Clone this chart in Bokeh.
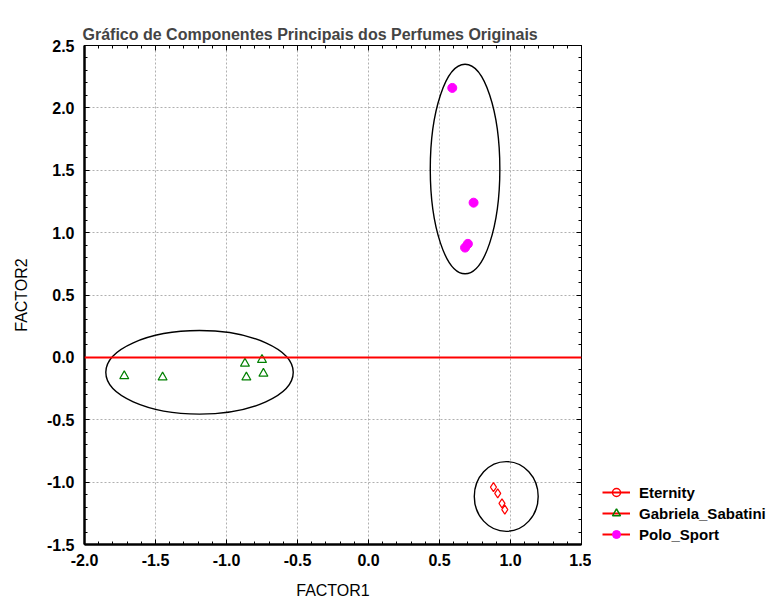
import math
from bokeh.plotting import figure
from bokeh.layouts import row
from bokeh.models import (Range1d, LinearAxis, Legend, LegendItem, Span,
                          SingleIntervalTicker, PrintfTickFormatter,
                          CustomJSTickFormatter)
from bokeh.embed import file_html
from bokeh.resources import INLINE

# ---- data ----
eternity_x = [0.88, 0.91, 0.94, 0.96]
eternity_y = [-1.04, -1.09, -1.17, -1.22]

gabriela_x = [-1.72, -1.45, -0.87, -0.86, -0.75, -0.74]
gabriela_y = [-0.15, -0.16, -0.05, -0.16, -0.02, -0.13]

polo_x = [0.59, 0.74, 0.70, 0.68]
polo_y = [2.16, 1.24, 0.91, 0.88]

# ellipses: centre x, centre y, width, height
ell_x = [-1.19, 0.68, 0.97]
ell_y = [-0.12, 1.51, -1.115]
ell_w = [1.32, 0.49, 0.45]
ell_h = [0.67, 1.68, 0.56]

series_labels = ["Eternity", "Gabriela_Sabatini", "Polo_Sport"]

title = "Gráfico de Componentes Principais dos Perfumes Originais"
font = "Liberation Sans"

p = figure(frame_width=497, frame_height=499, output_backend="svg",
           toolbar_location=None,
           x_range=Range1d(-2.0, 1.5), y_range=Range1d(-1.5, 2.5),
           min_border_left=84, min_border_right=10, min_border_top=45,
           min_border_bottom=59, title=title)
p.background_fill_color = "white"
p.border_fill_color = "white"
p.outline_line_color = "black"
p.outline_line_width = 1

p.title.align = "left"
p.title.offset = -2
p.title.text_font = font
p.title.text_font_size = "16px"
p.title.text_font_style = "bold"
p.title.standoff = 6

p.xaxis.ticker = SingleIntervalTicker(interval=0.5, num_minor_ticks=5)
p.yaxis.ticker = SingleIntervalTicker(interval=0.5, num_minor_ticks=5)
p.xaxis.formatter = PrintfTickFormatter(format="%.1f")
p.yaxis.formatter = PrintfTickFormatter(format="%.1f")

for ax in (p.xaxis[0], p.yaxis[0]):
    ax.axis_line_width = 2.5
    ax.axis_line_color = "black"
    ax.major_tick_in = 5
    ax.major_tick_out = 0
    ax.minor_tick_in = 3
    ax.minor_tick_out = 0
    ax.major_tick_line_color = "black"
    ax.minor_tick_line_color = "black"
    ax.major_label_text_font = font
    ax.major_label_text_font_size = "16px"
    ax.major_label_text_font_style = "bold"
    ax.major_label_text_color = "black"
    ax.axis_label_text_font = font
    ax.axis_label_text_font_size = "16px"
    ax.axis_label_text_font_style = "normal"
    ax.axis_label_text_color = "black"

p.xaxis.axis_label = "FACTOR1"
p.yaxis.axis_label = "FACTOR2"
p.xaxis.major_label_standoff = 9
p.yaxis.major_label_standoff = 10
p.xaxis.axis_label_standoff = 13
p.yaxis.axis_label_standoff = 14

# top and right axes: ticks only
for loc in ("above", "right"):
    ax = LinearAxis(ticker=SingleIntervalTicker(interval=0.5, num_minor_ticks=5),
                    formatter=CustomJSTickFormatter(code="return ''"))
    ax.major_label_standoff = 0
    ax.axis_line_color = None
    ax.major_tick_in = 5
    ax.major_tick_out = 0
    ax.minor_tick_in = 3
    ax.minor_tick_out = 0
    ax.major_tick_line_color = "black"
    ax.minor_tick_line_color = "black"
    p.add_layout(ax, loc)

p.xgrid.grid_line_color = "#b0b0b0"
p.ygrid.grid_line_color = "#b0b0b0"
p.xgrid.grid_line_dash = "2 2"
p.ygrid.grid_line_dash = "2 2"
p.xgrid.grid_line_width = 1
p.ygrid.grid_line_width = 1

p.add_layout(Span(location=0, dimension="width", line_color="red", line_width=2))

p.ellipse(x=ell_x, y=ell_y, width=ell_w, height=ell_h,
          fill_color=None, line_color="black", line_width=1.4)

p.scatter(eternity_x, eternity_y, marker="diamond", size=9,
          fill_color=None, line_color="red", line_width=1.2)
p.scatter(gabriela_x, gabriela_y, marker="triangle", size=9,
          fill_color=None, line_color="green", line_width=1.2)
p.scatter(polo_x, polo_y, marker="circle", size=9,
          fill_color="magenta", line_color="magenta")

# ---- legend panel (separate figure to the right) ----
lg = figure(width=183, height=585, output_backend="svg", toolbar_location=None,
            x_range=Range1d(0, 1), y_range=Range1d(0, 1),
            min_border=0, x_axis_type=None, y_axis_type=None)
lg.outline_line_color = None
lg.xgrid.visible = False
lg.ygrid.visible = False
lg.background_fill_color = None
lg.border_fill_color = None
lg.styles = {"transform": "translateY(18px)"}
lg.stylesheets = [":host { transform: translateY(18px) !important; }"]

nan = [math.nan]
red_line = lg.line(nan, nan, line_color="red", line_width=2)
m_et = lg.scatter(nan, nan, marker="circle", size=8,
                  fill_color=None, line_color="red", line_width=1.5)
m_gb = lg.scatter(nan, nan, marker="triangle", size=9,
                  fill_color=None, line_color="green", line_width=1.5)
m_po = lg.scatter(nan, nan, marker="circle", size=10,
                  fill_color="magenta", line_color="magenta")

legend = Legend(items=[
    LegendItem(label=series_labels[0], renderers=[red_line, m_et]),
    LegendItem(label=series_labels[1], renderers=[red_line, m_gb]),
    LegendItem(label=series_labels[2], renderers=[red_line, m_po]),
])
legend.location = (11, 0)
legend.border_line_color = None
legend.background_fill_alpha = 0
legend.padding = 0
legend.margin = 0
legend.spacing = 1
legend.glyph_width = 28
legend.glyph_height = 20
legend.label_standoff = 9
legend.label_text_font = font
legend.label_text_font_size = "15px"
legend.label_text_font_style = "bold"
legend.label_text_color = "black"
lg.add_layout(legend)

layout = row(p, lg, spacing=0)
open("out.html", "w").write(file_html(layout, INLINE))
